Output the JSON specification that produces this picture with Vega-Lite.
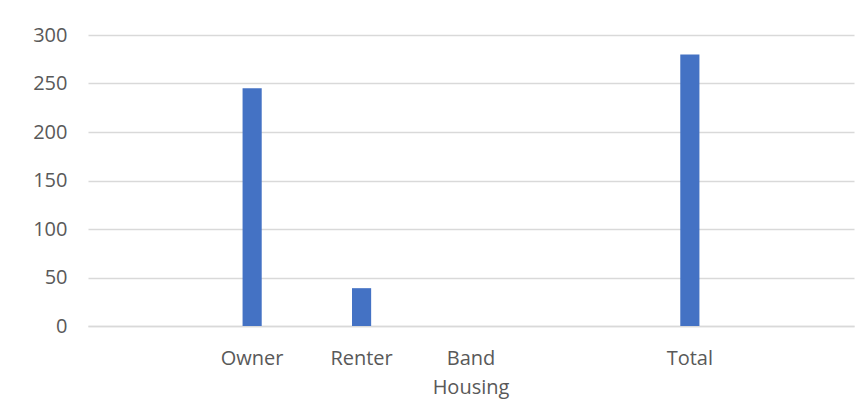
{
  "$schema": "https://vega.github.io/schema/vega-lite/v6.json",
  "autosize": "none",
  "width": 766,
  "height": 291,
  "padding": {"left": 88, "top": 35, "right": 10, "bottom": 88},
  "background": "white",
  "config": {
    "view": {"stroke": null},
    "font": "Open Sans"
  },
  "data": {
    "values": [
      {"category": "gap1", "value": null},
      {"category": "Owner", "value": 245},
      {"category": "Renter", "value": 39},
      {"category": "Band Housing", "value": null},
      {"category": "gap2", "value": null},
      {"category": "Total", "value": 280},
      {"category": "gap3", "value": null}
    ]
  },
  "mark": {"type": "bar", "color": "#4472C4", "width": {"band": 0.175}},
  "encoding": {
    "x": {
      "field": "category",
      "type": "nominal",
      "sort": null,
      "scale": {
        "domain": ["gap1", "Owner", "Renter", "Band Housing", "gap2", "Total", "gap3"],
        "paddingInner": 0,
        "paddingOuter": 0
      },
      "axis": {
        "title": null,
        "labelAngle": 0,
        "ticks": false,
        "domainColor": "#d9d9d9",
        "domainWidth": 1.5,
        "labelFont": "Open Sans",
        "labelFontSize": 20,
        "labelColor": "#595959",
        "labelPadding": 22,
        "labelLineHeight": 29,
        "labelExpr": "datum.value == 'Band Housing' ? ['Band', 'Housing'] : (indexof(datum.value, 'gap') == 0 ? '' : datum.value)"
      }
    },
    "y": {
      "field": "value",
      "type": "quantitative",
      "scale": {"domain": [0, 300], "nice": false},
      "axis": {
        "title": null,
        "values": [0, 50, 100, 150, 200, 250, 300],
        "ticks": false,
        "domain": false,
        "gridColor": "#d9d9d9",
        "gridWidth": 1.5,
        "labelFont": "Open Sans",
        "labelFontSize": 20,
        "labelColor": "#595959",
        "labelPadding": 21
      }
    }
  }
}
